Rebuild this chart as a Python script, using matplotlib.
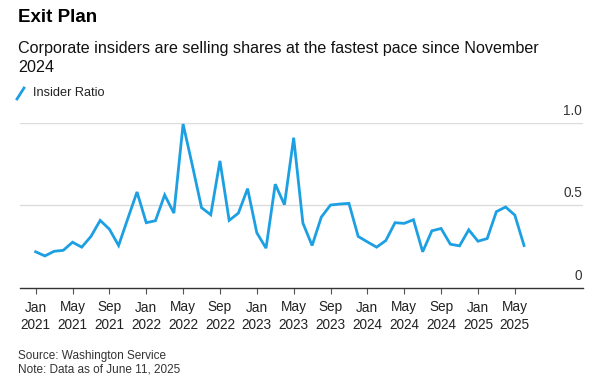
import matplotlib
matplotlib.use("Agg")
import matplotlib.pyplot as plt
from matplotlib.lines import Line2D

plt.rcParams['font.family'] = ['Liberation Sans', 'DejaVu Sans']

# Monthly data, Jan 2021 .. Jun 2025
months = [f"{y}-{m:02d}" for y in range(2021, 2026) for m in range(1, 13)][:54]
insider_ratio = [
    0.219, 0.194, 0.222, 0.228, 0.277, 0.247, 0.312, 0.409, 0.356, 0.257, 0.420, 0.581,  # 2021
    0.395, 0.407, 0.563, 0.453, 0.992, 0.743, 0.486, 0.443, 0.769, 0.409, 0.453, 0.601,  # 2022
    0.334, 0.241, 0.628, 0.504, 0.909, 0.393, 0.257, 0.429, 0.502, 0.508, 0.512, 0.312,  # 2023
    0.279, 0.247, 0.287, 0.395, 0.391, 0.413, 0.219, 0.346, 0.360, 0.265, 0.255, 0.352,  # 2024
    0.283, 0.299, 0.462, 0.490, 0.441, 0.257,                                            # 2025
]
tick_labels = ["Jan\n2021", "May\n2021", "Sep\n2021", "Jan\n2022", "May\n2022", "Sep\n2022",
               "Jan\n2023", "May\n2023", "Sep\n2023", "Jan\n2024", "May\n2024", "Sep\n2024",
               "Jan\n2025", "May\n2025"]
y_ticks = [0, 0.5, 1.0]
y_tick_labels = ["0", "0.5", "1.0"]

BLUE = "#1ca0e3"

fig = plt.figure(figsize=(6.0, 3.86), dpi=100)
ax = fig.add_axes([20/600, 1 - 288/386, 563/600, (288 - 122.7)/386])

x = list(range(len(months)))
ax.plot(x, insider_ratio, color=BLUE, lw=2.0, solid_joinstyle='miter', clip_on=False)

ax.set_xlim(-1.7, 59.4)
ax.set_ylim(0, 1.0)

for v in y_ticks[1:]:
    ax.axhline(v, color="#dcdcdc", lw=1.0, zorder=0)
for v, lab in zip(y_ticks, y_tick_labels):
    ax.text(0.9985, v + 0.03, lab, transform=ax.get_yaxis_transform(), ha='right', va='bottom',
            fontsize=9.8, color="#333333")

ax.set_yticks([])
ax.set_xticks(x[::4])
ax.set_xticklabels(tick_labels, fontsize=9.8, color="#222222", linespacing=1.3)
ax.tick_params(axis='x', length=4, width=0.8, color="#555555", pad=5)

for s in ['top', 'right', 'left']:
    ax.spines[s].set_visible(False)
ax.spines['bottom'].set_color("#333333")
ax.spines['bottom'].set_linewidth(1.0)

fig.text(18/600, 1 - 18/386, "Exit Plan", fontsize=13.5, fontweight='bold', ha='left', va='center', color="#000000")
fig.text(18/600, 1 - 41/386, "Corporate insiders are selling shares at the fastest pace since November\n2024",
         fontsize=11.6, ha='left', va='top', color="#111111", linespacing=1.3)

# Legend
fig.add_artist(Line2D([17/600, 24/600], [1 - 99/386, 1 - 88/386], color=BLUE, lw=2.0,
                      transform=fig.transFigure))
fig.text(33/600, 1 - 93/386, "Insider Ratio", fontsize=9.2, ha='left', va='center', color="#222222")

fig.text(18/600, 1 - 356/386, "Source: Washington Service", fontsize=8.5, ha='left', va='center', color="#333333")
fig.text(18/600, 1 - 370/386, "Note: Data as of June 11, 2025", fontsize=8.5, ha='left', va='center', color="#333333")

fig.savefig("out.png", dpi=100)
